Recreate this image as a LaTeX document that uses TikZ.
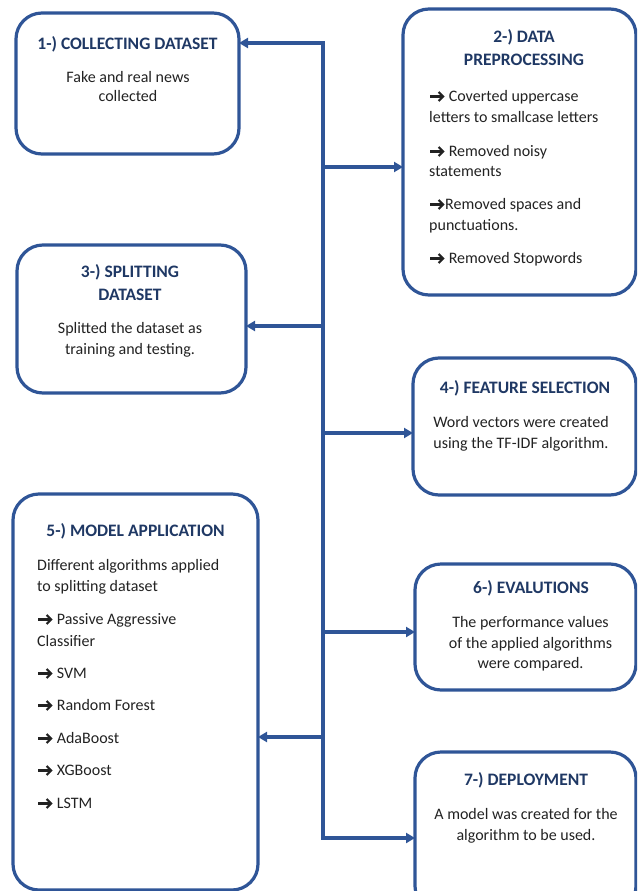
\documentclass[tikz,border=0pt]{standalone}
\usepackage{fontspec}
\setmainfont{Carlito}
\usetikzlibrary{arrows.meta}
\definecolor{lineblue}{HTML}{2F5597}
\definecolor{titleblue}{HTML}{1F3864}
\definecolor{bodytext}{HTML}{222222}
\newcommand{\ar}{\tikz[x=1pt,y=1pt,baseline=0pt]{\draw[line width=2.2pt, draw=bodytext, line cap=butt] (0,4.5)--(12.5,4.5); \draw[line width=2.2pt, draw=bodytext, line join=miter] (8.3,9)--(12.8,4.5)--(8.3,0);}\hspace{1pt}}
\begin{document}
\begin{tikzpicture}[x=1pt,y=-1pt,
  box/.style={draw=lineblue, line width=3.2pt, rounded corners=26pt, anchor=north west, inner sep=0pt, outer sep=0pt},
  ttl/.style={font=\fontsize{17.5}{21}\selectfont\bfseries, text=titleblue, anchor=base, inner sep=0pt},
  bdy/.style={font=\fontsize{16}{20}\selectfont, text=bodytext, anchor=base, inner sep=0pt},
  bdl/.style={bdy, anchor=base west},
  conn/.style={draw=lineblue, line width=3.5pt},
  arr/.style={conn, -{Triangle[length=9pt,width=10pt]}}]
\useasboundingbox (0,0) rectangle (637,891);
\clip (0,0) rectangle (637,891);
% boxes
\node[box, minimum width=223pt, minimum height=141pt] (b1) at (16,13) {};
\node[box, minimum width=233pt, minimum height=286pt] (b2) at (403,9) {};
\node[box, minimum width=229pt, minimum height=148pt] (b3) at (17,245) {};
\node[box, minimum width=223pt, minimum height=137pt] (b4) at (413,358) {};
\node[box, minimum width=245pt, minimum height=396pt] (b5) at (13,494) {};
\node[box, minimum width=221pt, minimum height=126pt] (b6) at (415,564) {};
\node[box, minimum width=221pt, minimum height=160pt] (b7) at (415,752) {};
% box 1 text
\node[ttl] (t1) at (127.5,49) {1-) COLLECTING DATASET};
\node[bdy] (t1a) at (128,82) {Fake and real news};
\node[bdy] (t1b) at (128,101) {collected};
% box 2 text
\node[ttl] (t2) at (524,43) {2-) DATA};
\node[ttl] (t2b) at (524,66) {PREPROCESSING};
\node[bdl] (t2c) at (429,101) {\ar\ Coverted uppercase};
\node[bdl] (t2d) at (429,122) {letters to smallcase letters};
\node[bdl] (t2e) at (429,156) {\ar\ Removed noisy};
\node[bdl] (t2f) at (429,176) {statements};
\node[bdl] (t2g) at (429,209) {\ar Removed spaces and};
\node[bdl] (t2h) at (429,230) {punctuations.};
\node[bdl] (t2i) at (429,263) {\ar\ Removed Stopwords};
% box 3 text
\node[ttl] (t3) at (130,277) {3-) SPLITTING};
\node[ttl] (t3b) at (130,300) {DATASET};
\node[bdy] (t3c) at (130,333) {Splitted the dataset as};
\node[bdy] (t3d) at (130,354) {training and testing.};
% box 4 text
\node[ttl] (t4) at (525,393) {4-) FEATURE SELECTION};
\node[bdy] (t4a) at (521,427) {Word vectors were created};
\node[bdy] (t4b) at (521,448) {using the TF-IDF algorithm.};
% box 5 text
\node[ttl] (t5) at (135.5,536) {5-) MODEL APPLICATION};
\node[bdl] (t5a) at (37,570) {Different algorithms applied};
\node[bdl] (t5b) at (37,591) {to splitting dataset};
\node[bdl] (t5c) at (37,624) {\ar\ Passive Aggressive};
\node[bdl] (t5d) at (37,646) {Classifier};
\node[bdl] (t5e) at (37,678) {\ar\ SVM};
\node[bdl] (t5f) at (37,710) {\ar\ Random Forest};
\node[bdl] (t5g) at (37,743) {\ar\ AdaBoost};
\node[bdl] (t5h) at (37,775) {\ar\ XGBoost};
\node[bdl] (t5i) at (37,808) {\ar\ LSTM};
% box 6 text
\node[ttl] (t6) at (531,593) {6-) EVALUTIONS};
\node[bdy] (t6a) at (530.5,627) {The performance values};
\node[bdy] (t6b) at (530.5,648) {of the applied algorithms};
\node[bdy] (t6c) at (530.5,668) {were compared.};
% box 7 text
\node[ttl] (t7) at (526,785) {7-) DEPLOYMENT};
\node[bdy] (t7a) at (526,819) {A model was created for the};
\node[bdy] (t7b) at (526,840) {algorithm to be used.};
% trunk
\coordinate (top) at (323,43);
\coordinate (bot) at (323,838);
\coordinate (j2) at (323,167);
\coordinate (j3) at (323,326);
\coordinate (j4) at (323,433);
\coordinate (j6) at (323,632);
\coordinate (j5) at (323,737);
\draw[conn, line cap=rect] (top) -- (bot);
\draw[arr] (top) -- (b1.east |- top);
\draw[arr] (j2) -- (b2.west |- j2);
\draw[arr] (j3) -- (b3.east |- j3);
\draw[arr] (j4) -- (b4.west |- j4);
\draw[arr] (j6) -- (b6.west |- j6);
\draw[arr] (j5) -- (b5.east |- j5);
\draw[arr] (bot) -- (b7.west |- bot);
\end{tikzpicture}
\end{document}
